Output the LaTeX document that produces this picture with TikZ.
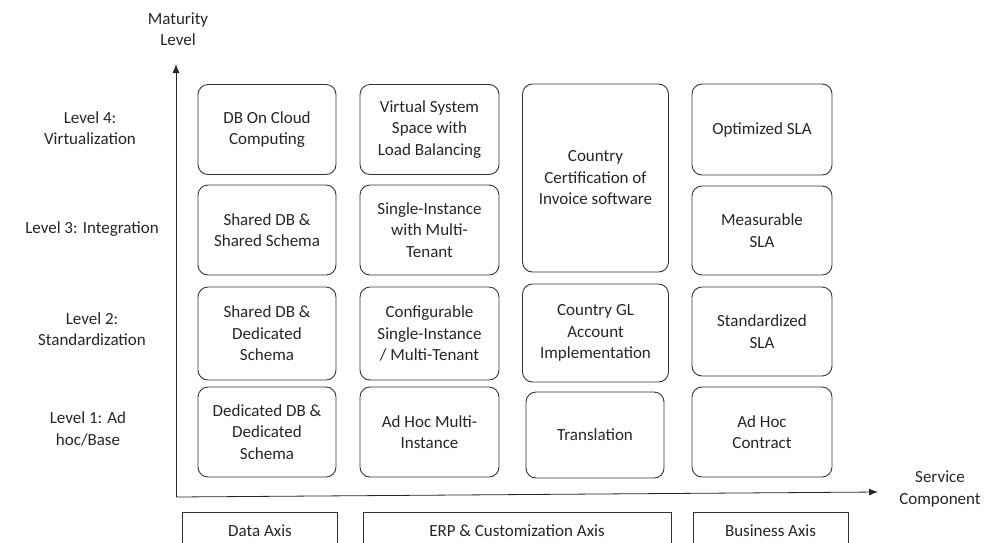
\documentclass[tikz,border=0pt]{standalone}
\usepackage{fontspec}
\setmainfont{Carlito}
\usetikzlibrary{arrows.meta}
\begin{document}
\begin{tikzpicture}[x=1pt, y=-1pt,
    every node/.style={font=\fontsize{17}{21.5}\selectfont, text=black!85},
    cell/.style={rectangle, draw=black!80, line width=0.9pt, rounded corners=10pt, align=center, inner sep=0pt},
    axisbox/.style={rectangle, draw=black!80, line width=0.8pt, align=center, inner sep=0pt, minimum height=38pt},
    label/.style={align=center},
    arrow/.style={-{Latex[length=9pt,width=7pt]}, line width=0.8pt, draw=black!85}]

    \clip (0,0) rectangle (984,542);
    \useasboundingbox (0,0) rectangle (984,542);

    % axes
    \coordinate (origin) at (176,497);
    \coordinate (ytip) at (176,64);
    \coordinate (xtip) at (878,492);
    \draw[arrow] (origin) -- (ytip);
    \draw[arrow] (origin) -- (xtip);
    \node[label] (ylabel) at (178,29) {Maturity\\Level};
    \node[label] (xlabel) at (940,489) {Service\\Component};

    % level labels
    \node[label] (lvl4) at (90,128) {Level 4:\\Virtualization};
    \node[label] (lvl3) at (92,229) {Level 3: Integration};
    \node[label] (lvl2) at (92,329) {Level 2:\\Standardization};
    \node[label] (lvl1) at (88,429) {Level 1: Ad\\hoc/Base};

    % data column
    \node[cell, minimum width=138pt, minimum height=90pt] (dbcloud) at (267,129.5) {DB On Cloud\\Computing};
    \node[cell, minimum width=138pt, minimum height=90pt] (shareddb) at (267,230) {Shared DB \&\\Shared Schema};
    \node[cell, minimum width=138pt, minimum height=93pt] (shareddedi) at (267,333.5) {Shared DB \&\\Dedicated\\Schema};
    \node[cell, minimum width=138pt, minimum height=90pt] (dedidb) at (267,432) {Dedicated DB \&\\Dedicated\\Schema};

    % ERP column
    \node[cell, minimum width=139pt, minimum height=90pt] (virtual) at (429.5,129.5) {Virtual System\\Space with\\Load Balancing};
    \node[cell, minimum width=139pt, minimum height=90pt] (single) at (429.5,230) {Single-Instance\\with Multi-\\Tenant};
    \node[cell, minimum width=139pt, minimum height=93pt] (config) at (429.5,333.5) {Configurable\\Single-Instance\\/ Multi-Tenant};
    \node[cell, minimum width=139pt, minimum height=90pt] (adhocmulti) at (429.5,432) {Ad Hoc Multi-\\Instance};

    % customization column
    \node[cell, minimum width=146pt, minimum height=188pt] (certif) at (595.5,178) {Country\\Certification of\\Invoice software};
    \node[cell, minimum width=146pt, minimum height=98pt] (glaccount) at (595.5,333) {Country GL\\Account\\Implementation};
    \node[cell, minimum width=138pt, minimum height=86pt] (transl) at (595,435) {Translation};

    % business column
    \node[cell, minimum width=140pt, minimum height=91pt] (optsla) at (762,129.5) {Optimized SLA};
    \node[cell, minimum width=140pt, minimum height=89pt] (meassla) at (762,230.5) {Measurable\\SLA};
    \node[cell, minimum width=140pt, minimum height=89pt] (stdsla) at (762,331.5) {Standardized\\SLA};
    \node[cell, minimum width=140pt, minimum height=90pt] (contract) at (762,432) {Ad Hoc\\Contract};

    % axis groups
    \node[axisbox, minimum width=155pt] (dataaxis) at (260,531) {Data Axis};
    \node[axisbox, minimum width=308pt] (erpaxis) at (517,531) {ERP \& Customization Axis};
    \node[axisbox, minimum width=155pt] (busaxis) at (770.5,531) {Business Axis};
\end{tikzpicture}
\end{document}
